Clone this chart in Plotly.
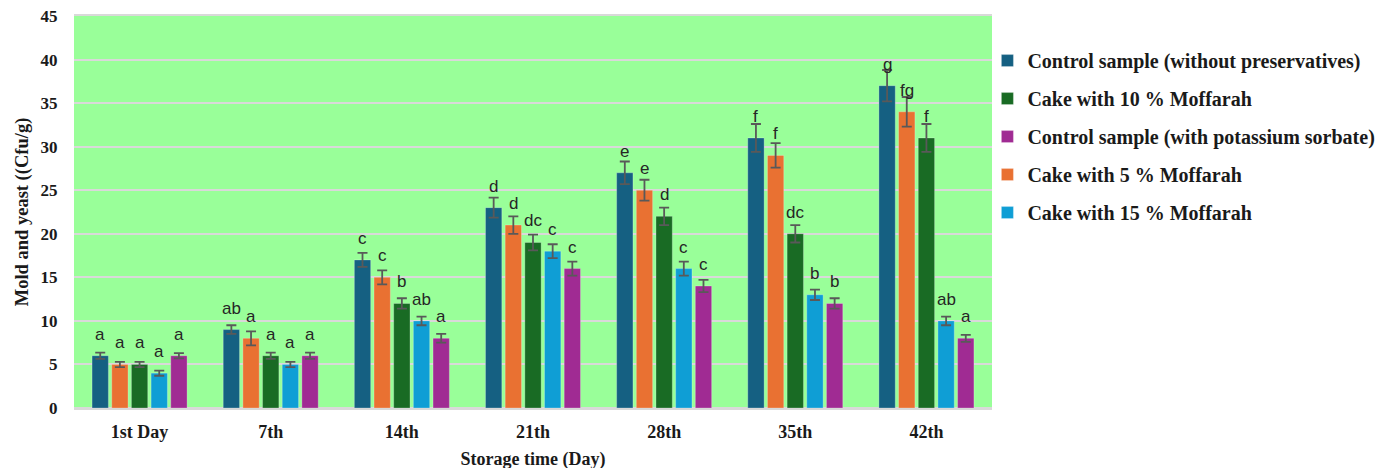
import plotly.graph_objects as go

categories = ["1st Day", "7th", "14th", "21th", "28th", "35th", "42th"]

series_names = [
    "Control sample (without preservatives)",
    "Cake with 5 % Moffarah",
    "Cake with 10 % Moffarah",
    "Cake with 15 % Moffarah",
    "Control sample (with potassium sorbate)",
]
legend_rank = [1, 4, 2, 5, 3]
colors = ["#156082", "#E97132", "#196B24", "#0F9ED5", "#A02B93"]

control_vals = [6, 9, 17, 23, 27, 31, 37]
moff5_vals = [5, 8, 15, 21, 25, 29, 34]
moff10_vals = [5, 6, 12, 19, 22, 20, 31]
moff15_vals = [4, 5, 10, 18, 16, 13, 10]
sorbate_vals = [6, 6, 8, 16, 14, 12, 8]

control_err = [0.35, 0.5, 0.8, 1.15, 1.3, 1.6, 1.8]
moff5_err = [0.3, 0.8, 0.8, 1.0, 1.2, 1.4, 1.7]
moff10_err = [0.3, 0.35, 0.6, 0.9, 1.0, 1.0, 1.6]
moff15_err = [0.3, 0.3, 0.5, 0.8, 0.8, 0.6, 0.5]
sorbate_err = [0.3, 0.35, 0.5, 0.8, 0.7, 0.6, 0.4]

control_lbl = ["a", "ab", "c", "d", "e", "f", "g"]
moff5_lbl = ["a", "a", "c", "d", "e", "f", "fg"]
moff10_lbl = ["a", "a", "b", "dc", "d", "dc", "f"]
moff15_lbl = ["a", "a", "ab", "c", "c", "b", "ab"]
sorbate_lbl = ["a", "a", "a", "c", "c", "b", "a"]

values = [control_vals, moff5_vals, moff10_vals, moff15_vals, sorbate_vals]
errors = [control_err, moff5_err, moff10_err, moff15_err, sorbate_err]
labels = [control_lbl, moff5_lbl, moff10_lbl, moff15_lbl, sorbate_lbl]

BARGAP = 0.25
BARGROUPGAP = 0.17
SERIF = "Liberation Serif"

fig = go.Figure()
n = len(series_names)
for j in range(n):
    fig.add_trace(go.Bar(
        x=categories,
        y=values[j],
        name=series_names[j],
        legendrank=legend_rank[j],
        legendgroup=f"g{j}",
        marker=dict(color=colors[j], line=dict(color="rgba(255,255,255,0.25)", width=1)),
        error_y=dict(type="data", array=errors[j], visible=True,
                     color="#595959", thickness=1.8, width=5),
    ))

annotations = []
slot = (1 - BARGAP) / n
for j in range(n):
    for i, cat in enumerate(categories):
        annotations.append(dict(
            x=i + (j - (n - 1) / 2) * slot,
            y=values[j][i],
            xref="x", yref="y",
            text=labels[j][i],
            showarrow=False,
            yanchor="bottom",
            yshift=10,
            font=dict(family="Liberation Sans", size=17, color="#262626"),
        ))

fig.update_layout(
    width=1399, height=468,
    margin=dict(l=66, r=415, t=8, b=68, autoexpand=False),
    paper_bgcolor="white",
    plot_bgcolor="#99FF99",
    barmode="group",
    bargap=BARGAP,
    bargroupgap=BARGROUPGAP,
    annotations=annotations,
    legend=dict(
        x=0.995, xanchor="left", y=0.936, yanchor="top",
        font=dict(family=SERIF, size=20, color="#1a1a1a", weight="bold"),
        tracegroupgap=9,
        bgcolor="rgba(0,0,0,0)",
        itemwidth=30,
    ),
    showlegend=True,
)

fig.update_xaxes(
    type="category", automargin=False,
    tickfont=dict(family=SERIF, size=18, color="#1a1a1a", weight="bold"),
    ticks="outside", ticklen=6, tickcolor="rgba(0,0,0,0)",
    showline=True, mirror=True, linecolor="#d9d9d9", linewidth=2,
    title=dict(text="Storage time (Day)", standoff=12,
               font=dict(family=SERIF, size=18, color="#1a1a1a", weight="bold")),
)
fig.update_yaxes(
    range=[0, 45], dtick=5, automargin=False,
    ticklabeloverflow="allow",
    tickfont=dict(family=SERIF, size=17, color="#1a1a1a", weight="bold"),
    ticks="outside", ticklen=12, tickcolor="rgba(0,0,0,0)",
    showgrid=True, gridcolor="#d9d9d9", gridwidth=2,
    zeroline=True, zerolinecolor="#d9d9d9", zerolinewidth=2,
    title=dict(text="Mold and yeast ((Cfu/g)", standoff=7,
               font=dict(family=SERIF, size=18.5, color="#1a1a1a", weight="bold")),
)

fig.write_html("out.html")
